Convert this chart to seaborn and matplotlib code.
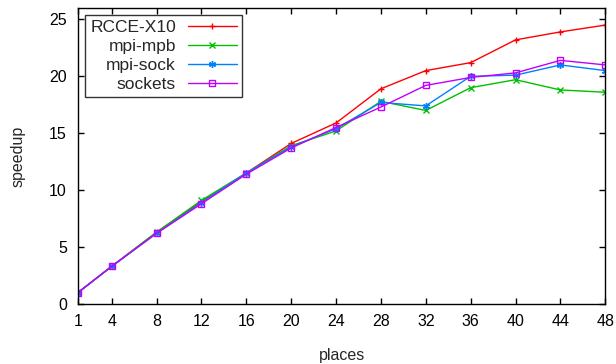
import pandas as pd
import seaborn as sns
import matplotlib
matplotlib.use("Agg")
import matplotlib.pyplot as plt

# Data
places = [1, 4, 8, 12, 16, 20, 24, 28, 32, 36, 40, 44, 48]
rcce_x10 = [1.0, 3.3, 6.3, 9.0, 11.5, 14.1, 15.9, 18.9, 20.5, 21.2, 23.2, 23.9, 24.5]
mpi_mpb = [1.0, 3.3, 6.3, 9.1, 11.5, 13.9, 15.2, 17.8, 17.0, 19.0, 19.7, 18.8, 18.6]
mpi_sock = [1.0, 3.3, 6.2, 8.9, 11.5, 13.8, 15.4, 17.7, 17.4, 20.0, 20.1, 21.0, 20.5]
sockets = [1.0, 3.3, 6.2, 8.8, 11.4, 13.7, 15.5, 17.3, 19.2, 19.9, 20.3, 21.4, 21.0]

series_names = ["RCCE-X10", "mpi-mpb", "mpi-sock", "sockets"]
series_values = [rcce_x10, mpi_mpb, mpi_sock, sockets]
x_ticks = [1, 4, 8, 12, 16, 20, 24, 28, 32, 36, 40, 44, 48]
y_ticks = [0, 5, 10, 15, 20, 25]

rows = []
for name, vals in zip(series_names, series_values):
    for p, v in zip(places, vals):
        rows.append({"places": p, "speedup": v, "impl": name})
df = pd.DataFrame(rows)

sns.set_theme(style="ticks")
plt.rcParams["font.family"] = ["Liberation Sans", "DejaVu Sans"]

palette = {"RCCE-X10": "#ff0000", "mpi-mpb": "#00c000",
           "mpi-sock": "#0080ff", "sockets": "#c000ff"}
markers = {"RCCE-X10": "+", "mpi-mpb": "x",
           "mpi-sock": (6, 2, 0), "sockets": "s"}

fig = plt.figure(figsize=(6.16, 3.64), dpi=100)
ax = fig.add_axes([0.1266, 0.165, 0.856, 0.813])

for name in series_names:
    sub = df[df["impl"] == name]
    mfc = "none" if name == "sockets" else palette[name]
    sns.lineplot(data=sub, x="places", y="speedup", ax=ax, color=palette[name],
                 marker=markers[name], markersize=5, markerfacecolor=mfc,
                 markeredgecolor=palette[name], markeredgewidth=1.0,
                 linewidth=1.0, label=name)

ax.set_xlim(1, 48)
ax.set_ylim(0, 26)
ax.set_xticks(x_ticks)
ax.set_yticks(y_ticks)
ax.tick_params(direction="in", length=4, width=1, top=True, right=True,
               labelsize=11.5, colors="black")
ax.tick_params(axis="x", pad=7)
ax.tick_params(axis="y", pad=8)
for s in ax.spines.values():
    s.set_linewidth(1.0)
    s.set_color("black")
ax.set_xlabel("places", fontsize=11.5, labelpad=14)
ax.set_ylabel("speedup", fontsize=11.5, labelpad=17)

leg = ax.legend(loc="upper left", markerfirst=False, fontsize=12.5,
                frameon=True, fancybox=False, edgecolor="black",
                borderaxespad=0.4, handlelength=2.8, labelspacing=0.22,
                borderpad=0.3, handletextpad=0.7)
leg.get_frame().set_linewidth(1.0)
leg._legend_box.align = "right"

fig.savefig("out.png", dpi=100)
